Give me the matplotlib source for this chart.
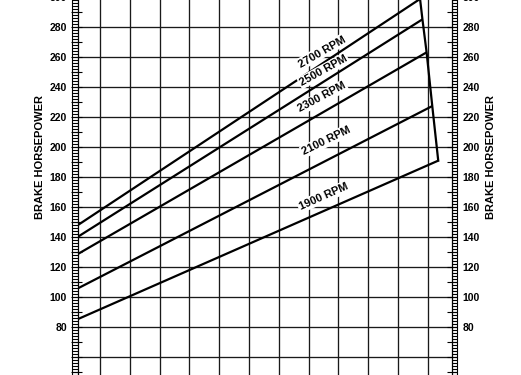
import matplotlib
matplotlib.use('Agg')
import matplotlib.pyplot as plt
from matplotlib.collections import LineCollection

plt.rcParams['font.family'] = ['Liberation Sans', 'DejaVu Sans']

# ---- data ----
rpm_labels = ['1900 RPM', '2100 RPM', '2300 RPM', '2500 RPM', '2700 RPM']
bhp_at_axis = [85.1, 105.6, 128.5, 140.0, 147.8]   # value where each line meets the left axis
x_end = [29.35, 29.15, 28.96, 28.82, 28.74]         # x where each line ends (on the limit line)
bhp_end = [190.7, 227.1, 262.9, 284.9, 298.5]
label_x = [25.5, 25.6, 25.45, 25.5, 25.45]
label_y = [166.7, 204.0, 232.9, 250.7, 263.3]
label_rot = [24, 26, 28, 29, 30]
ytick_values = list(range(60, 301, 20))
ytick_labels = ['' if v < 80 else str(v) for v in ytick_values]
x_grid = list(range(18, 30))
y_label = 'BRAKE HORSEPOWER'

# ---- layout ----
W, H = 521, 375
fig = plt.figure(figsize=(W / 100, H / 100), dpi=100)


def fy(v):
    return 1 - (326.7 - 1.5 * (v - 80)) / H


ylo, yhi = 40, 310
x_lo, x_hi = 17.262, 29.802
ax_w_px = 451.7 - 78
ax = fig.add_axes([78 / W, fy(ylo), ax_w_px / W, fy(yhi) - fy(ylo)])
ax.set_xlim(x_lo, x_hi)
ax.set_ylim(ylo, yhi)
for s in ['top', 'bottom']:
    ax.spines[s].set_visible(False)
for s in ['left', 'right']:
    ax.spines[s].set_linewidth(0.9)
    ax.spines[s].set_color('black')

ax.set_xticks(x_grid)
ax.set_yticks(ytick_values, ytick_labels)
ax.grid(True, color='#1a1a1a', linewidth=0.95)
ax.set_axisbelow(True)
ax.tick_params(axis='x', length=0, labelbottom=False)
ax.tick_params(axis='y', length=0, labelleft=True, labelright=True, pad=8,
               labelsize=7.5)
for lab in ax.get_yticklabels():
    lab.set_fontweight('bold')

# ---- curves ----
for i in range(len(rpm_labels)):
    ax.plot([x_lo, x_end[i]], [bhp_at_axis[i], bhp_end[i]], color='black',
            linewidth=1.6, solid_capstyle='butt', zorder=4)
ax.plot(x_end, bhp_end, color='black', linewidth=1.6, zorder=4)

for i, s in enumerate(rpm_labels):
    ax.text(label_x[i], label_y[i], s, rotation=label_rot[i], ha='center',
            va='center', fontsize=8, fontweight='bold', zorder=5,
            bbox=dict(facecolor='white', edgecolor='none', pad=1.0))

# ---- ladder scales on both sides ----
tr = ax.get_yaxis_transform()
pxf = 1 / ax_w_px
segs = []
for y in range(ylo, yhi + 1, 2):
    segs.append([(-6.5 * pxf, y), (0, y)])
    segs.append([(1, y), (1 + 5.3 * pxf, y)])
for y in range(ylo, yhi + 1, 10):
    segs.append([(-7 * pxf, y), (3.7 * pxf, y)])
    segs.append([(1 - 5 * pxf, y), (1 + 5.3 * pxf, y)])
segs.append([(-6.5 * pxf, ylo), (-6.5 * pxf, yhi)])
segs.append([(1 + 5.3 * pxf, ylo), (1 + 5.3 * pxf, yhi)])
lc = LineCollection(segs, colors='black', linewidths=0.8, transform=tr,
                    clip_on=False)
ax.add_collection(lc)

fig.text(40 / W, 1 - 157.5 / H, y_label, rotation=90, ha='center',
         va='center', fontsize=8, fontweight='bold')
fig.text(490.5 / W, 1 - 157.5 / H, y_label, rotation=90, ha='center',
         va='center', fontsize=8, fontweight='bold')

fig.savefig('out.png', dpi=100)
